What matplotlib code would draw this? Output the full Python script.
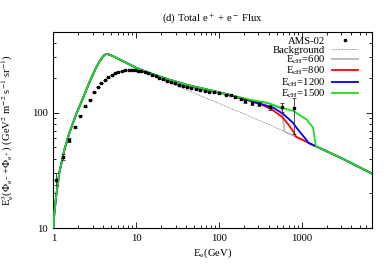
import numpy as np
import matplotlib
matplotlib.use("Agg")
import matplotlib.pyplot as plt
from matplotlib.lines import Line2D

plt.rcParams['font.family'] = ['Liberation Serif', 'DejaVu Serif']
plt.rcParams['mathtext.fontset'] = 'stix'

# AMS-02 total e+ + e- flux (E^3 * flux)
ams_E = [1.08, 1.30, 1.53, 1.81, 2.10, 2.41, 2.74, 3.09, 3.46, 3.82, 4.19, 4.60,
         5.09, 5.59, 6.12, 6.70, 7.40, 8.10, 8.90, 9.70, 10.6, 11.6, 12.7, 14.0,
         15.5, 17.2, 19.0, 21.2, 23.6, 26.3, 29.5, 33.0, 37.0, 41.5, 46.5, 52.5,
         59.5, 67.5, 76.5, 87.0, 100, 121, 139, 158, 183, 209, 251, 303, 418, 578, 800]
ams_F = [26, 41.5, 58, 75, 94, 113, 129, 151, 166, 180, 191, 202,
         212, 220, 226, 230, 233, 234, 234, 233, 231, 228, 224, 219,
         213, 207, 201, 195, 189, 184, 179, 175, 171, 167, 164, 161,
         158, 155, 152, 150, 147, 143, 141, 137, 131, 126, 121, 118, 111, 111, 110]
ams_lo = [2.5, 2.5, 2, 1.5, 1, 1, 1, 1, 1, 1, 1, 1,
          1, 1, 1, 1, 1, 1, 1, 1, 1, 1, 1, 1,
          1, 1, 1, 1, 1, 1, 1, 1, 1, 1, 1, 1,
          1, 1, 1, 1, 1.5, 2, 2, 3, 3, 4, 4, 5, 6, 10, 45]
ams_hi = [4, 2.5, 2, 1.5, 1, 1, 1, 1, 1, 1, 1, 1,
          1, 1, 1, 1, 1, 1, 1, 1, 1, 1, 1, 1,
          1, 1, 1, 1, 1, 1, 1, 1, 1, 1, 1, 1,
          1, 1, 1, 1, 1.5, 2, 2, 3, 3, 4, 4, 5, 6, 10, 24]

# common low-energy part of all model curves
common_E = [1.0, 1.03, 1.08, 1.18, 1.36, 1.56, 1.88, 2.25, 2.71, 3.27, 3.6, 3.93, 4.15,
            4.39, 4.7, 5.19, 6.84, 9.9, 14.3, 25, 43.4, 75.9, 132]
common_F = [10, 13.5, 18.7, 30, 47.7, 66.6, 96, 130, 181, 243, 275, 302, 315,
            322, 318, 309, 280, 245, 221, 193, 172, 157, 143]

# background (shares the curve up to ~10 GeV)
bkg_E = [14.3, 25, 50, 100, 200, 400, 844, 1500, 3000, 7000]
bkg_F = [215, 182, 148, 120, 97.5, 79, 62, 51, 40.5, 29.8]

# high-energy parts with the extra source cut at E_cH
e600_E = [229, 398, 530, 580, 620]
e600_F = [129, 120, 110, 106, 68.5]
e800_E = [229, 332, 440, 580, 700, 800, 850]
e800_F = [127, 117, 106, 92, 78, 68, 62]
e1200_E = [229, 458, 602, 780, 950, 1100, 1215]
e1200_F = [128, 110, 97, 82, 68, 60, 54.5]
e1500_E = [229, 398, 530, 697, 800, 1015, 1150, 1370, 1490]
e1500_F = [130, 121, 112, 106, 103, 92, 87, 74.5, 51]


def with_bkg_tail(E, F):
    """join low part, own part and the background beyond the cut"""
    E_all = common_E + E
    F_all = common_F + F
    for e, f in zip(bkg_E, bkg_F):
        if e > E[-1]:
            E_all.append(e)
            F_all.append(f)
    return E_all, F_all


fig = plt.figure(figsize=(3.92, 2.74), dpi=100)
ax = fig.add_axes([0.136, 0.167, 0.812, 0.717])

bkg_style = dict(color='#8c8c8c', lw=0.55, ls=(0, (2.5, 1.2)))
n_bkg_low = common_E.index(9.9) + 1
ax.plot(common_E[:n_bkg_low] + bkg_E, common_F[:n_bkg_low] + bkg_F, zorder=2, **bkg_style)

curves = [
    (e600_E, e600_F, '#b8b8b8'),
    (e800_E, e800_F, '#ff0000'),
    (e1200_E, e1200_F, '#0000ff'),
    (e1500_E, e1500_F, '#19e019'),
]
for E, F, c in curves:
    xe, yf = with_bkg_tail(E, F)
    ax.plot(xe, yf, color=c, lw=1.3, zorder=3)

ax.errorbar(ams_E, ams_F, yerr=[ams_lo, ams_hi], fmt='s', ms=1.9, color='black',
            ecolor='#333333', elinewidth=0.6, capsize=1.4, capthick=0.6, zorder=4)

ax.set_xscale('log')
ax.set_yscale('log')
ax.set_xlim(1, 7000)
ax.set_ylim(10, 500)

ax.set_xticks([1, 10, 100, 1000])
ax.set_xticklabels(['1', '10', '100', '1000'])
ax.set_yticks([10, 100])
ax.set_yticklabels(['10', '100'])
ax.yaxis.set_minor_formatter(matplotlib.ticker.NullFormatter())
ax.xaxis.set_minor_formatter(matplotlib.ticker.NullFormatter())
ax.tick_params(which='both', direction='in', top=True, right=True, labelsize=7.7, width=0.6)
ax.tick_params(which='major', length=4, pad=4)
ax.tick_params(which='minor', length=2)
for sp in ax.spines.values():
    sp.set_linewidth(0.8)

ax.set_title(r'(d) Total e$^+$ + e$^-$ Flux', fontsize=7.7, pad=8)
ax.set_xlabel(r'E$_\mathrm{e}$(GeV)', fontsize=7.7, labelpad=3)
ax.set_ylabel(r'E$_\mathrm{e}^3$($\Phi_{\mathrm{e}^-}$+$\Phi_{\mathrm{e}^+}$) (GeV$^2$ m$^{-2}$ s$^{-1}$ sr$^{-1}$)',
              fontsize=7.7)
ax.yaxis.set_label_coords(-0.117, 0.5)

handles = [
    Line2D([], [], ls='none', marker='o', ms=1.6, color='black'),
    Line2D([], [], **bkg_style),
    Line2D([], [], color='#b8b8b8', lw=1.3),
    Line2D([], [], color='#ff0000', lw=1.3),
    Line2D([], [], color='#0000ff', lw=1.3),
    Line2D([], [], color='#19e019', lw=1.3),
]
labels = ['AMS-02', 'Background', r'E$_\mathrm{cH}$=600', r'E$_\mathrm{cH}$=800',
          r'E$_\mathrm{cH}$=1200', r'E$_\mathrm{cH}$=1500']
ax.legend(handles, labels, loc='upper right', bbox_to_anchor=(0.957, 0.975),
          frameon=False, markerfirst=False, fontsize=7.7, handlelength=2.45,
          handletextpad=0.6, labelspacing=-0.1, borderpad=0, borderaxespad=0)

fig.savefig('out.png', dpi=100)
